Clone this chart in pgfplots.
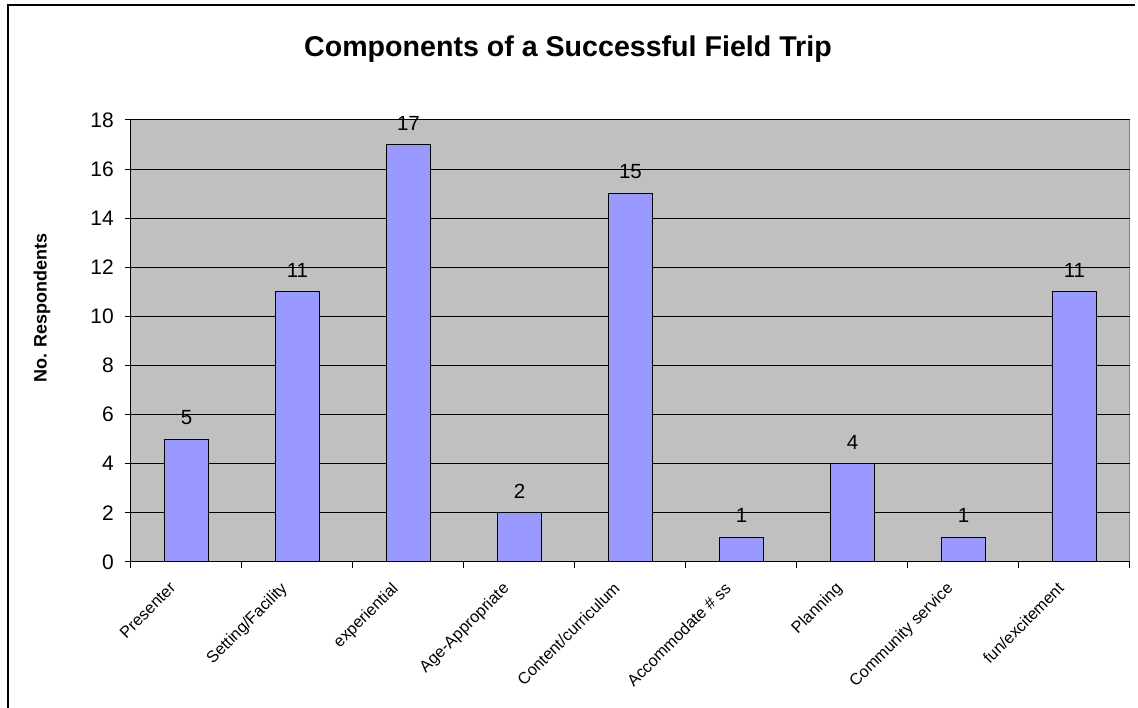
\documentclass[border=0pt]{standalone}
\usepackage{fontspec}
\setmainfont{Liberation Sans}
\usepackage{pgfplots}
\pgfplotsset{compat=1.18}
\definecolor{barfill}{HTML}{9999FF}
\definecolor{plotbg}{HTML}{C0C0C0}
\definecolor{plotframe}{HTML}{808080}
\begin{document}
\begin{tikzpicture}[x=1pt,y=1pt]
\useasboundingbox (0,0) rectangle (1138,708);
\fill[white] (0,0) rectangle (1138,708);
\draw[line width=2pt,black] (8,-5) -- (8,703) -- (1135,703);
\begin{axis}[
  at={(131pt,146pt)}, anchor=south west,
  scale only axis, width=999pt, height=442pt,
  xmin=-0.5, xmax=8.5, ymin=0, ymax=18,
  axis background/.style={fill=plotbg, draw=plotframe, line width=1pt},
  axis lines*=left,
  axis line style={black, line width=1pt, -},
  ytick={0,2,...,18},
  xtick={0,...,8},
  xticklabels={Presenter,Setting/Facility,experiential,Age-Appropriate,Content/curriculum,Accommodate \# ss,Planning,Community service,fun/excitement},
  minor xtick={-0.5,0.5,...,8.5},
  tick align=outside,
  major tick length=6pt, minor tick length=6pt,
  major x tick style={draw=none},
  minor x tick style={black, line width=1pt},
  major y tick style={black, line width=1pt},
  ymajorgrids, grid style={black, line width=1pt},
  /pgf/number format/assume math mode=true,
  yticklabel style={font=\fontsize{21}{25}\selectfont, inner sep=2pt, xshift=-9pt},
  xticklabel style={font=\fontsize{16.3}{19}\selectfont, xshift=-18pt, yshift=-10pt, rotate=45, anchor=north east, inner sep=2pt},
  title={\textbf{Components of a Successful Field Trip}},
  title style={font=\fontsize{28.6}{34}\selectfont, at={(axis description cs:0.4374,1.147)}, anchor=center},
  ylabel={\textbf{No. Respondents}},
  ylabel style={font=\fontsize{18}{22}\selectfont, at={(axis description cs:-0.089,0.575)}, anchor=center},
  nodes near coords,
  nodes near coords style={font=\fontsize{20.5}{24}\selectfont, inner sep=1pt, anchor=south, yshift=13pt},
]
\addplot[ybar, bar width=0.405, fill=barfill, draw=black, line width=1pt]
  coordinates {(0,5) (1,11) (2,17) (3,2) (4,15) (5,1) (6,4) (7,1) (8,11)};
\end{axis}
\end{tikzpicture}
\end{document}
